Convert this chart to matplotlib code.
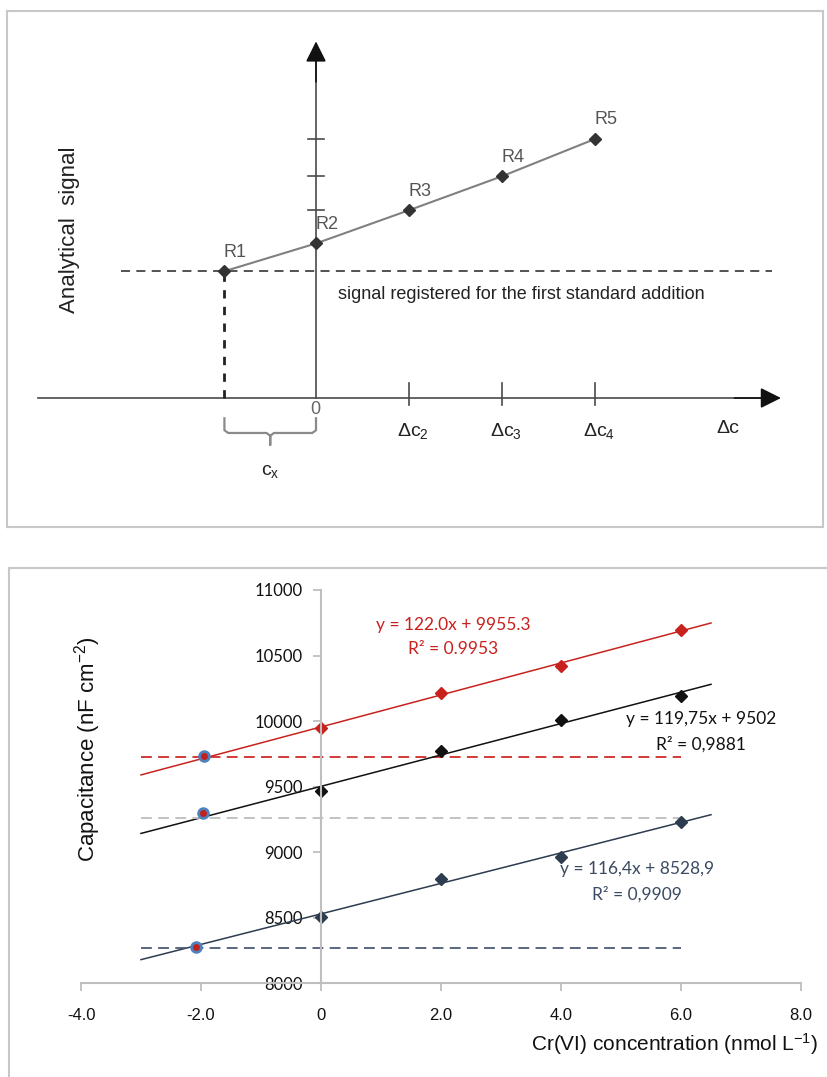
"""
Standard addition method: schematic (top) and Cr(VI) capacitance calibration (bottom).
"""

import matplotlib.pyplot as plt
from matplotlib.lines import Line2D
import numpy as np

plt.rcParams['font.family'] = ['Liberation Sans', 'DejaVu Sans']
plt.rcParams['mathtext.fontset'] = 'custom'
plt.rcParams['mathtext.rm'] = 'Liberation Sans'
plt.rcParams['mathtext.it'] = 'Liberation Sans:italic'

# ---- schematic data (arbitrary units, one Δc step = 1) ----
sa_conc = [-0.985, 0, 1, 2, 3]
sa_signal = [1.363, 1.662, 2.019, 2.384, 2.785]
sa_labels = ['R1', 'R2', 'R3', 'R4', 'R5']
sa_tick_labels = ['0', 'Δc$_\\mathrm{2}$', 'Δc$_\\mathrm{3}$', 'Δc$_\\mathrm{4}$']

# ---- capacitance data ----
conc = [0, 2, 4, 6]
cap_red = [9948, 10216, 10418, 10697]
cap_black = [9469, 9772, 10008, 10191]
cap_navy = [8507, 8795, 8963, 9230]
fits = [(122.0, 9955.3), (119.75, 9502), (116.4, 8528.9)]
cross_x = [-1.95, -1.97, -2.09]
cross_y = [9733, 9296, 8278]
dash_y = [9728, 9264, 8268]
eq_text = [('y = 122.0x + 9955.3', 'R² = 0.9953'),
           ('y = 119,75x + 9502', 'R² = 0,9881'),
           ('y = 116,4x + 8528,9', 'R² = 0,9909')]
x_ticks = [-4, -2, 0, 2, 4, 6, 8]
x_tick_labels = ['-4.0', '-2.0', '0', '2.0', '4.0', '6.0', '8.0']
y_ticks = [8000, 8500, 9000, 9500, 10000, 10500, 11000]

W, H = 828, 1077
fig = plt.figure(figsize=(W / 100, H / 100), dpi=100)


def box(x0, y0, x1, y1):
    return [x0 / W, 1 - y1 / H, (x1 - x0) / W, (y1 - y0) / H]


# ================= top schematic =================
ax0 = fig.add_axes(box(7, 11, 823, 527))
ax0.set_xlim(-3.323, 5.452)
ax0.set_ylim(-1.387, 4.161)
ax0.set_xticks([])
ax0.set_yticks([])
for s in ax0.spines.values():
    s.set_color('#c8c8c8')
    s.set_linewidth(1.5)

axc = '#4a4a4a'
arrow = dict(arrowstyle='-|>,head_length=0.9,head_width=0.45', color='#111',
             lw=1.2, mutation_scale=14, shrinkA=0, shrinkB=0)
ax0.annotate('', xy=(5.0, 0), xytext=(4.5, 0), arrowprops=arrow)
ax0.annotate('', xy=(0, 3.834), xytext=(0, 3.4), arrowprops=arrow)
ax0.plot([-2.99, 4.9], [0, 0], color=axc, lw=1.2)
ax0.plot([0, 0], [0, 3.7], color=axc, lw=1.2)

# axis ticks
for yv in sa_signal[2:]:
    ax0.plot([-0.086, 0.086], [yv, yv], color=axc, lw=1.2)
for xv in sa_conc[2:]:
    ax0.plot([xv, xv], [-0.075, 0.16], color=axc, lw=1.2)

# dashed guides
ax0.plot([-2.10, 4.90], [sa_signal[0]] * 2, color='#444', lw=1.3,
         dashes=(5, 3.5))
ax0.plot([sa_conc[0]] * 2, [0, sa_signal[0]], color='#222', lw=2.0,
         dashes=(3, 3))

# data line and points
ax0.plot(sa_conc, sa_signal, color='#808080', lw=1.5)
ax0.plot(sa_conc, sa_signal, 'D', color='#333333', ms=6.5)
for xv, yv, lab in zip(sa_conc, sa_signal, sa_labels):
    ax0.annotate(lab, (xv, yv), xytext=(11, 19), textcoords='offset pixels',
                 ha='center', va='center', fontsize=13, color='#555555')

# tick labels
ax0.text(-0.01, -0.129, sa_tick_labels[0], ha='center', va='center',
         fontsize=13, color='#666666')
for xv, lab in zip(sa_conc[2:], sa_tick_labels[1:]):
    ax0.text(xv + 0.04, -0.35, lab, ha='center', va='center', fontsize=14,
             color='#222222')
ax0.text(4.43, -0.33, 'Δc', ha='center', va='center', fontsize=14,
         color='#222222')

# brace under c_x
x1, x2 = sa_conc[0], 0
xc = (x1 + x2) / 2
top, mid, tip = -0.218, -0.376, -0.505
bx = [x1, x1, x1 + 0.04, xc - 0.04, xc, xc, xc, xc + 0.04, x2 - 0.04, x2, x2]
by = [top, mid + 0.03, mid, mid, mid - 0.03, tip, mid - 0.03, mid, mid,
      mid + 0.03, top]
ax0.plot(bx, by, color='#8a8a8a', lw=1.6, solid_joinstyle='round')
ax0.text(xc, -0.79, 'c$_\\mathrm{x}$', ha='center', va='center', fontsize=14,
         color='#222222')

ax0.text(0.237, 1.108, 'signal registered for the first standard addition',
         ha='left', va='center', fontsize=13, color='#222222')
fig.text(70 / W, 1 - 230 / H, 'Analytical  signal', rotation=90,
         ha='center', va='center', fontsize=16, color='#222222')

# ================= bottom chart =================
fig.add_artist(Line2D([8.5 / W, 8.5 / W], [0, 1 - 568 / H], color='#c8c8c8',
                      lw=1.5, transform=fig.transFigure))
fig.add_artist(Line2D([8.5 / W, 1], [1 - 568 / H] * 2, color='#c8c8c8',
                      lw=1.5, transform=fig.transFigure))

ax1 = fig.add_axes(box(81, 590, 801, 983.2))
ax1.set_xlim(-4, 8)
ax1.set_ylim(8000, 11000)
for side in ['top', 'right']:
    ax1.spines[side].set_visible(False)
ax1.spines['left'].set_position(('data', 0))
for side in ['left', 'bottom']:
    ax1.spines[side].set_color('#bfbfbf')
    ax1.spines[side].set_linewidth(1.5)

ax1.set_xticks(x_ticks)
ax1.set_xticklabels(x_tick_labels)
ax1.set_yticks(y_ticks)
ax1.tick_params(axis='x', direction='out', length=6, width=1.3,
                color='#bfbfbf', pad=12, labelsize=12, labelcolor='#111111')
ax1.tick_params(axis='y', direction='out', length=6, width=1.3,
                color='#bfbfbf', pad=7, labelsize=12, labelcolor='#111111')
for lab in ax1.get_yticklabels():
    lab.set_family('Lato')

colors = ['#c8221e', '#111111', '#2e3c50']
dash_colors = ['#d02a28', '#bdbdbd', '#4b5a75']
series = [cap_red, cap_black, cap_navy]
xfit = np.array([-3.0, 6.5])
for (m, b), ys, col, dcol, cx, cy, dy in zip(fits, series, colors,
                                              dash_colors, cross_x, cross_y,
                                              dash_y):
    ax1.plot(xfit, m * xfit + b, color=col, lw=1.1, clip_on=False)
    ax1.plot([-3.0, 6.0], [dy, dy], color=dcol, lw=1.3, dashes=(6, 3.5))
    ax1.plot(conc, ys, 'D', color=col, ms=6.5, clip_on=False)
    ax1.plot([cx], [cy], 'o', ms=7, mfc='#c0201e', mec='#4f81bd', mew=2.0)

eq_pos = [(2.2, 10734, 10552), (6.33, 10013, 9823), (5.27, 8873, 8676)]
for (l1, l2), (ex, ey1, ey2), col in zip(eq_text, eq_pos,
                                         ['#c8221e', '#111111', '#3b4a63']):
    ax1.text(ex, ey1, l1, ha='center', va='center', fontsize=12.5,
             color=col, family='Lato')
    ax1.text(ex, ey2, l2, ha='center', va='center', fontsize=12.5,
             color=col, family='Lato')

fig.text(88 / W, 1 - 749 / H, 'Capacitance (nF cm$^{-2}$)', rotation=90,
         ha='center', va='center', fontsize=16, color='#111111')
fig.text(818 / W, 1 - 1044 / H, 'Cr(VI) concentration (nmol L$^{-1}$)',
         ha='right', va='center', fontsize=15, color='#111111')

fig.savefig('out.png', dpi=100)
